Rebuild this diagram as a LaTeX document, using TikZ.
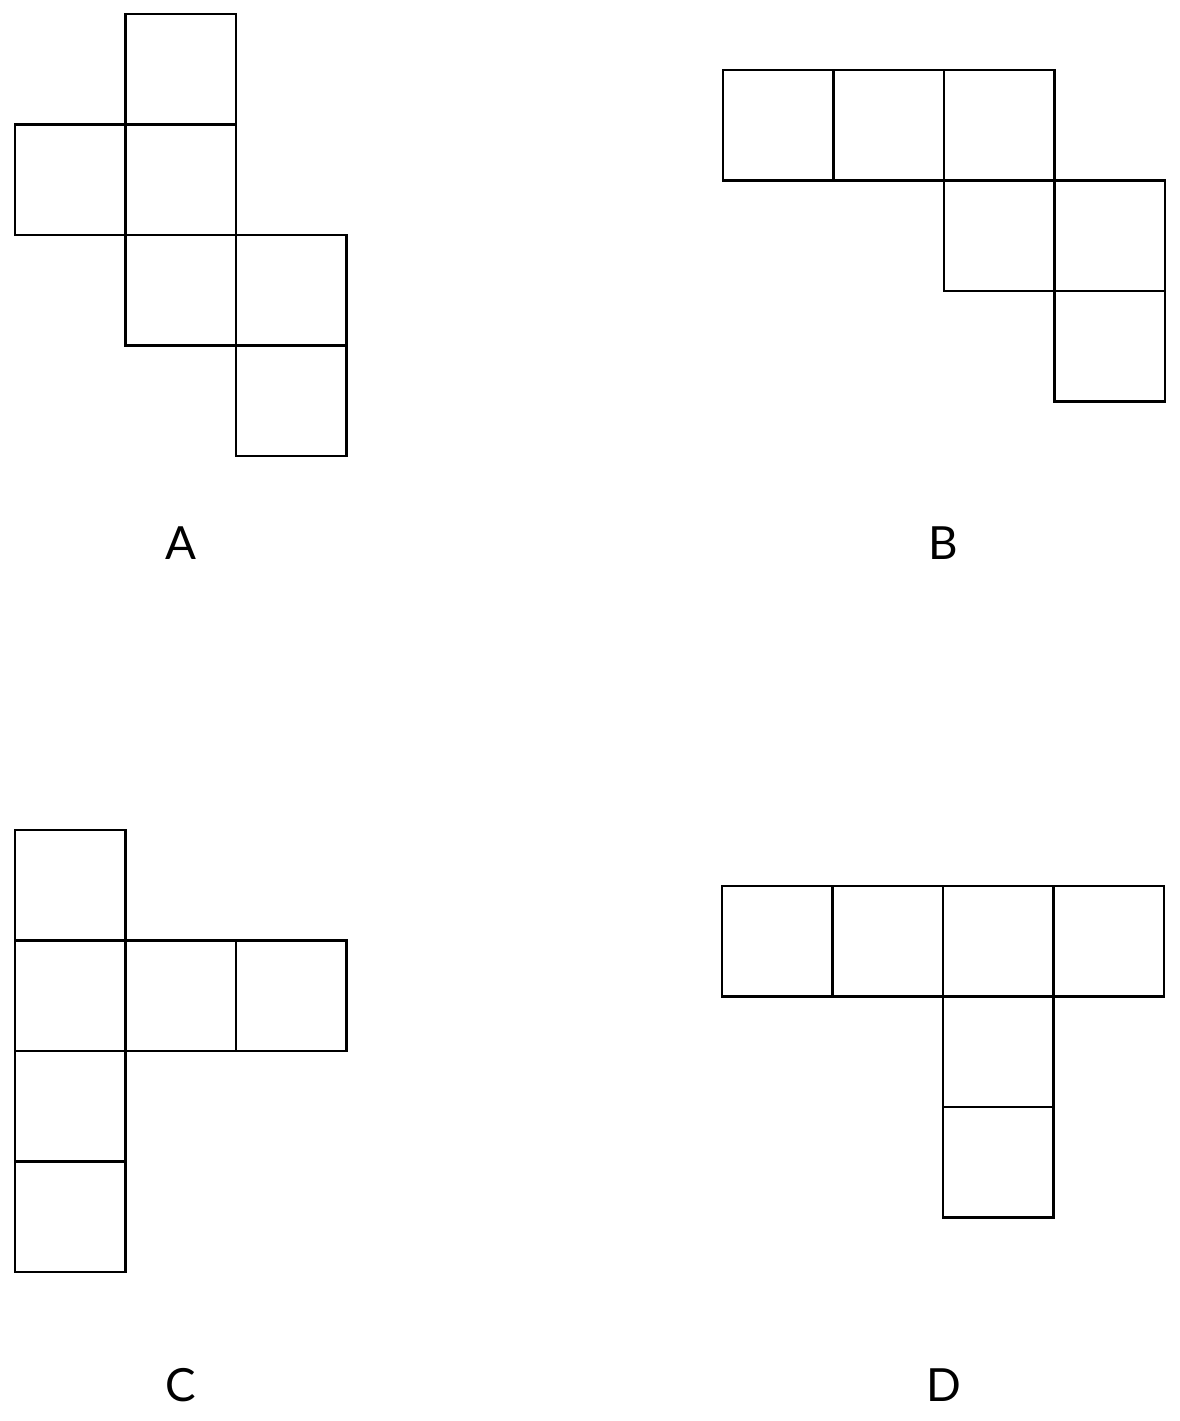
\documentclass[tikz,border=0pt]{standalone}
\usepackage{fontspec}
\setmainfont{Lato}
\usetikzlibrary{positioning}

\begin{document}
\begin{tikzpicture}[
  x=0.01cm,
  y=-0.01cm,
  face/.style={
    draw,
    line width=0.6pt,
    minimum size=1.105cm,
    inner sep=0pt,
    outer sep=0pt
  },
  net label/.style={
    font=\fontsize{13}{15}\selectfont
  }
]
\useasboundingbox (0,0) rectangle (1180,1421);

% Net A
\foreach \c/\r [count=\i] in {1/0,0/1,1/1,1/2,2/2,2/3}
  \node[face] (a\i) at ({15+110.5*(\c+0.5)},{14+110.5*(\r+0.5)}) {};
\node[net label] (la) at (181,543) {A};

% Net B
\foreach \c/\r [count=\i] in {0/0,1/0,2/0,2/1,3/1,3/2}
  \node[face] (b\i) at ({723+110.5*(\c+0.5)},{70+110.5*(\r+0.5)}) {};
\node[net label] (lb) at (943,543) {B};

% Net C
\foreach \c/\r [count=\i] in {0/0,0/1,1/1,2/1,0/2,0/3}
  \node[face] (c\i) at ({15+110.5*(\c+0.5)},{830+110.5*(\r+0.5)}) {};
\node[net label] (lc) at (181,1385) {C};

% Net D
\foreach \c/\r [count=\i] in {0/0,1/0,2/0,3/0,2/1,2/2}
  \node[face] (d\i) at ({722+110.5*(\c+0.5)},{886+110.5*(\r+0.5)}) {};
\node[net label] (ld) at (944,1385) {D};

\end{tikzpicture}
\end{document}
